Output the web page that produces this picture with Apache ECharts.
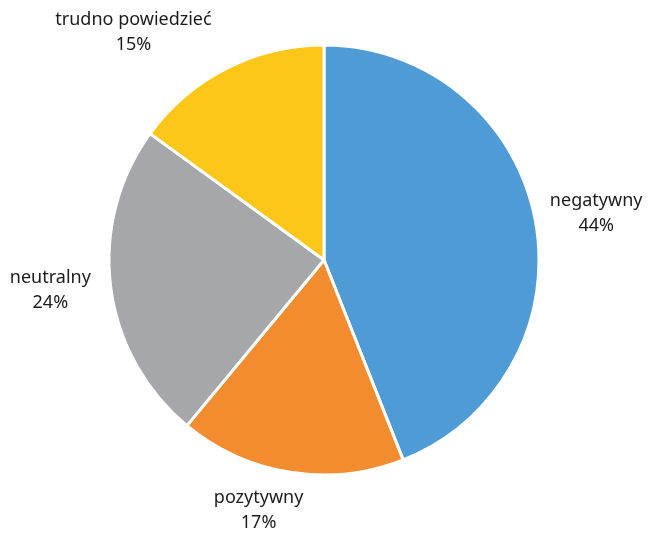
<!DOCTYPE html>
<html>
<head>
<meta charset="utf-8">
<script src="https://cdn.jsdelivr.net/npm/echarts@6/dist/echarts.min.js"></script>
<style>
  html, body { margin: 0; padding: 0; background: #fff; }
  #chart { width: 649px; height: 533px; }
</style>
</head>
<body>
<div id="chart"></div>
<script>
// Answers, clockwise from 12 o'clock
const categories = ['negatywny', 'pozytywny', 'neutralny', 'trudno powiedzieć'];
const shares = [44, 17, 24, 15];
const colors = ['#4F9BD5', '#F28C2F', '#A5A7AA', '#FDC71A'];

// Layout
const CX = 324, CY = 260, R = 215;
const LABEL_GAP = 18;
// Fine adjustment of each label around its outside-end spot
const labelNudge = [[-3, 6], [-25, -5], [-2, -4], [-72, 5]];

const total = shares.reduce((a, b) => a + b, 0);
const midAngles = [];
let acc = 0;
shares.forEach(v => {
  midAngles.push((acc + v / 2) / total * 2 * Math.PI);
  acc += v;
});

const chart = echarts.init(document.getElementById('chart'), null, { renderer: 'canvas' });
chart.setOption({
  animation: false,
  backgroundColor: '#ffffff',
  series: [{
    type: 'pie',
    center: [CX, CY],
    radius: R,
    startAngle: 90,
    clockwise: true,
    percentPrecision: 0,
    data: categories.map((name, i) => ({
      name: name,
      value: shares[i],
      itemStyle: { color: colors[i] }
    })),
    itemStyle: { borderColor: '#ffffff', borderWidth: 3 },
    label: {
      show: true,
      position: 'outside',
      formatter: '{b}\n{d}%',
      fontFamily: 'Noto Sans',
      fontSize: 18,
      lineHeight: 25,
      color: '#1c1c1c',
      align: 'center',
      overflow: 'none'
    },
    labelLine: { show: false },
    emphasis: { disabled: true },
    labelLayout: function (params) {
      const i = params.dataIndex;
      const a = midAngles[i];
      const dx = Math.sin(a), dy = -Math.cos(a);
      const w = params.labelRect.width, h = params.labelRect.height;
      const ext = Math.min(
        Math.abs(dx) > 1e-6 ? (w / 2) / Math.abs(dx) : Infinity,
        Math.abs(dy) > 1e-6 ? (h / 2) / Math.abs(dy) : Infinity
      );
      const d = R + LABEL_GAP + ext;
      return {
        x: CX + dx * d + labelNudge[i][0],
        y: CY + dy * d + labelNudge[i][1],
        align: 'center',
        verticalAlign: 'middle'
      };
    }
  }]
});
</script>
</body>
</html>
